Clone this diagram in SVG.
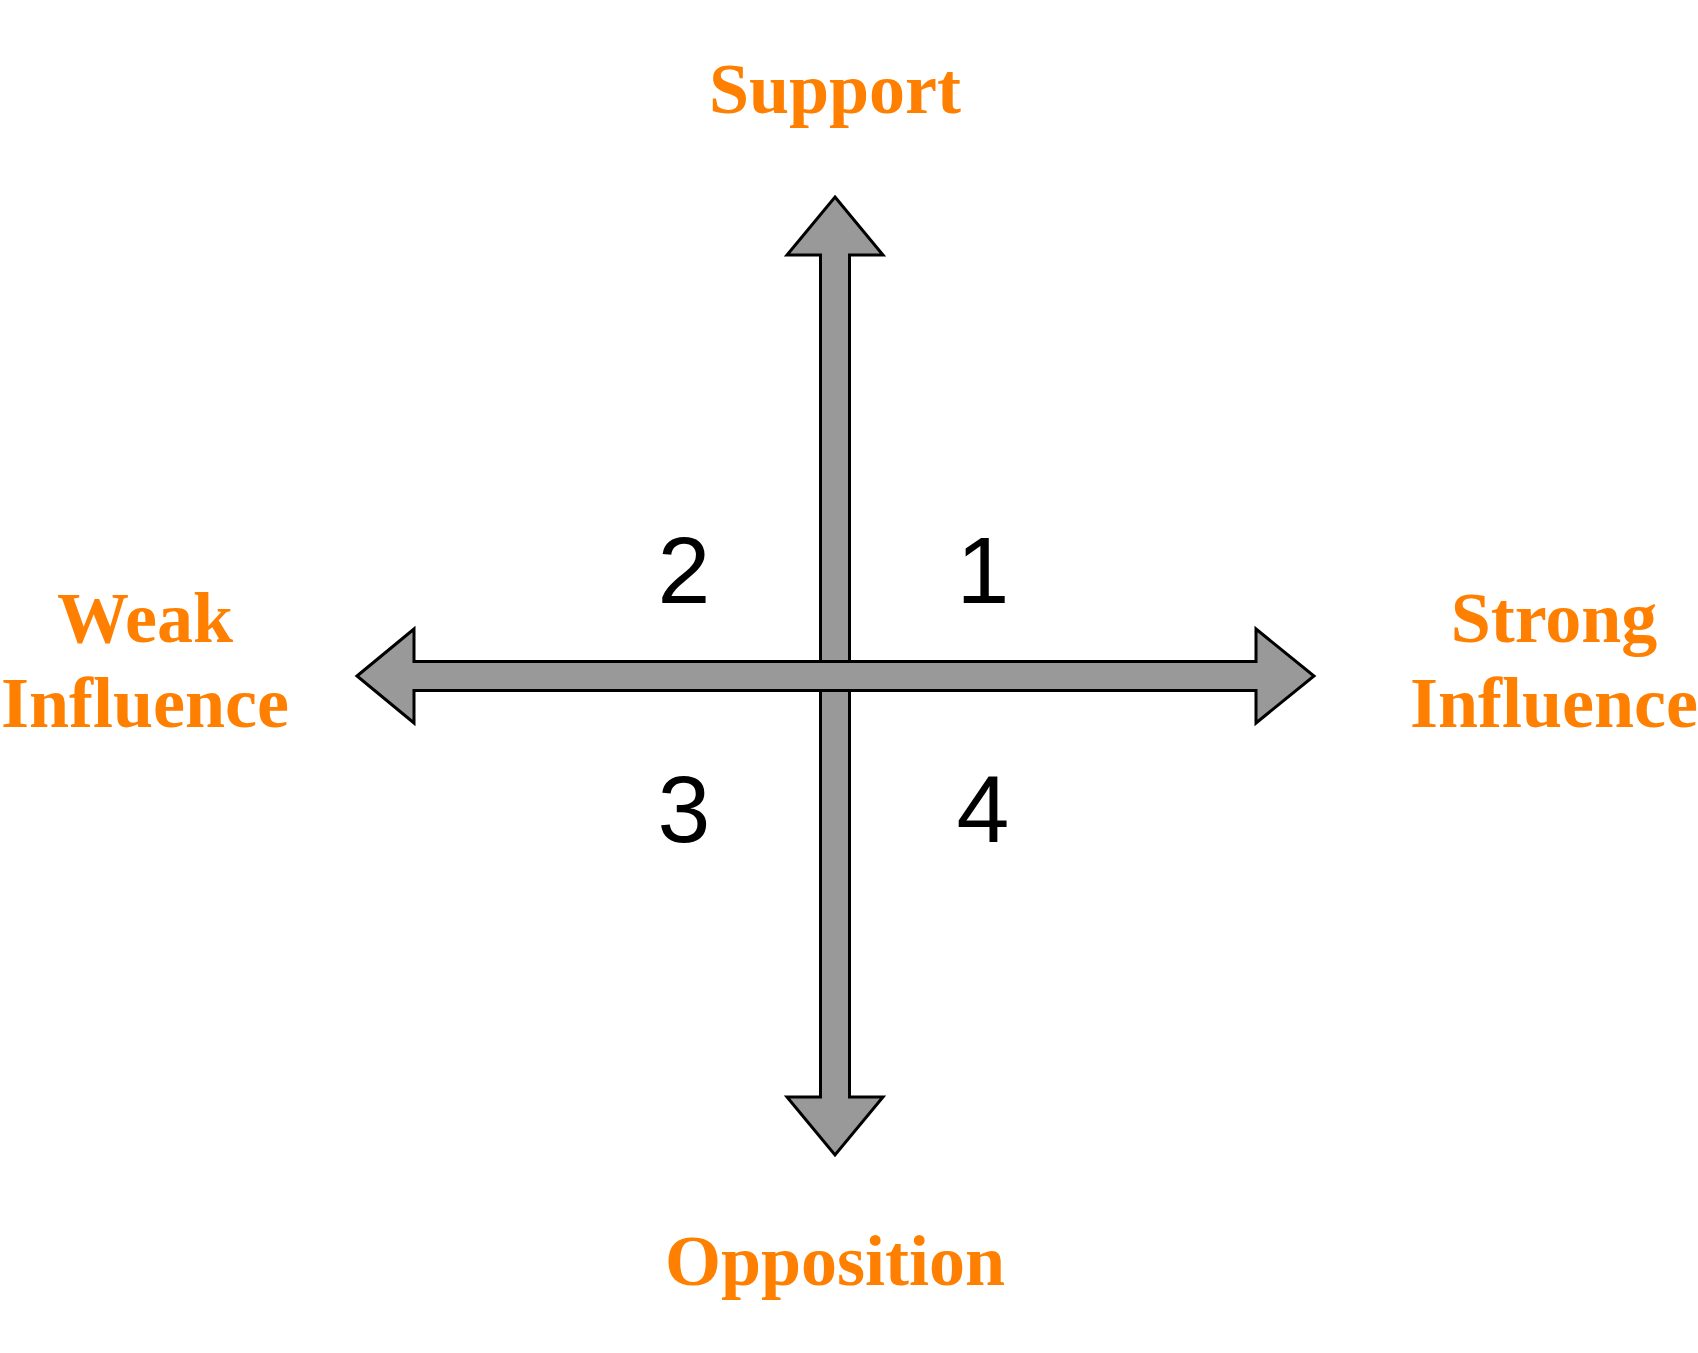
<svg xmlns="http://www.w3.org/2000/svg" width="1698" height="1353" viewBox="0 0 1698 1353">
  <style>
    .arrow { fill: #999999; stroke: #000000; stroke-width: 3; stroke-linejoin: miter; }
    .lbl { font-family: "Liberation Serif", "Times New Roman", serif; font-weight: bold; font-size: 72px; fill: #FF8000; text-anchor: middle; }
    .num { font-family: "Liberation Sans", Arial, sans-serif; font-size: 95px; fill: #000000; text-anchor: middle; }
  </style>
  <rect width="1698" height="1353" fill="#ffffff"/>
  <g id="connectors">
    <polygon id="vertical-arrow" class="arrow" points="835,197 883,255 849.5,255 849.5,1097 883,1097 835,1155 787,1097 820.5,1097 820.5,255 787,255"/>
    <polygon id="horizontal-arrow" class="arrow" points="357,676 414,629 414,661.5 1256,661.5 1256,629 1314,676 1256,723 1256,690.5 414,690.5 414,723"/>
  </g>
  <g id="support"><text class="lbl" x="835" y="113">Support</text></g>
  <g id="opposition"><text class="lbl" x="835" y="1285">Opposition</text></g>
  <g id="weak-influence">
    <text class="lbl" x="145" y="642">Weak</text>
    <text class="lbl" x="145" y="727">Influence</text>
  </g>
  <g id="strong-influence">
    <text class="lbl" x="1554" y="642">Strong</text>
    <text class="lbl" x="1554" y="727">Influence</text>
  </g>
  <g id="q1"><text class="num" x="983" y="603">1</text></g>
  <g id="q2"><text class="num" x="684" y="603">2</text></g>
  <g id="q3"><text class="num" x="684" y="842">3</text></g>
  <g id="q4"><text class="num" x="983" y="842">4</text></g>
</svg>
